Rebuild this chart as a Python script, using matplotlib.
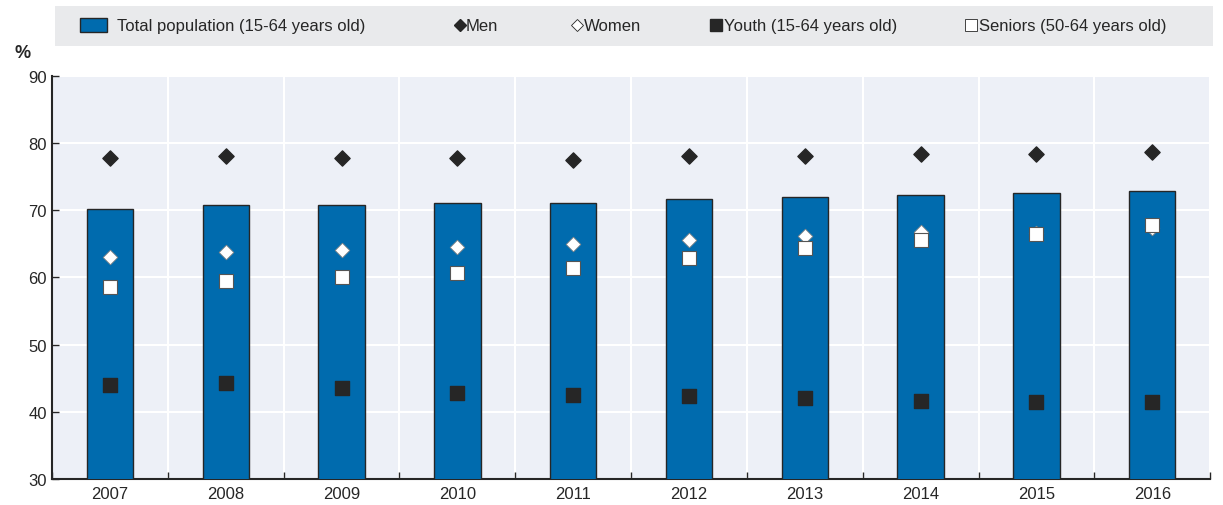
import matplotlib.pyplot as plt
import numpy as np
from matplotlib.patches import Rectangle

years = ["2007", "2008", "2009", "2010", "2011", "2012", "2013", "2014", "2015", "2016"]
total = [70.2, 70.7, 70.8, 71.0, 71.1, 71.7, 72.0, 72.3, 72.5, 72.9]
men = [77.7, 78.0, 77.7, 77.7, 77.5, 78.0, 78.1, 78.3, 78.4, 78.6]
women = [63.1, 63.7, 64.1, 64.5, 64.9, 65.6, 66.1, 66.8, 66.6, 67.3]
youth = [44.0, 44.3, 43.6, 42.8, 42.5, 42.4, 42.1, 41.6, 41.5, 41.5]
seniors = [58.6, 59.4, 60.1, 60.7, 61.4, 62.9, 64.3, 65.5, 66.5, 67.8]

plt.rcParams['font.family'] = ['Liberation Sans', 'DejaVu Sans']

BLUE = "#006BAE"
DARK = "#262626"

fig = plt.figure(figsize=(12.23, 5.06), dpi=100)
ax = fig.add_axes([0.0425, 0.0514, 0.947, 0.797])
ax.set_facecolor("#EDF0F7")

x = np.arange(len(years))
ax.bar(x, total, width=0.4, bottom=0, color=BLUE, edgecolor=DARK, linewidth=1, zorder=3)
ax.scatter(x, men, marker="D", s=60, color=DARK, edgecolor=DARK, zorder=4)
ax.scatter(x, women, marker="D", s=55, color="white", edgecolor="#888888", linewidth=0.6, zorder=4)
ax.scatter(x, youth, marker="s", s=110, color=DARK, edgecolor=DARK, zorder=4)
ax.scatter(x, seniors, marker="s", s=110, color="white", edgecolor="#555555", linewidth=0.8, zorder=5)

ax.set_ylim(30, 90)
ax.set_xlim(-0.5, len(years) - 0.5)
ax.set_yticks(range(30, 91, 10))
ax.set_xticks(x)
ax.set_xticklabels(years)
ax.set_xticks(np.arange(-0.5, len(years), 1), minor=True)

ax.grid(axis="y", color="white", linewidth=1.5, zorder=0)
ax.grid(axis="x", which="minor", color="white", linewidth=1.5, zorder=0)
ax.set_axisbelow(True)

for s in ["top", "right"]:
    ax.spines[s].set_visible(False)
for s in ["left", "bottom"]:
    ax.spines[s].set_color(DARK)
    ax.spines[s].set_linewidth(1.5)

ax.tick_params(axis="x", which="major", length=0, labelsize=12, colors=DARK, pad=5)
ax.tick_params(axis="x", which="minor", length=5, direction="in", color=DARK, width=1)
ax.tick_params(axis="y", length=5, direction="in", labelsize=12, colors=DARK, width=1)

fig.text(0.012, 0.885, "%", fontsize=13, fontweight="bold", color=DARK)

# legend drawn by hand in pixel coordinates of an overlay axes
lg = fig.add_axes([0, 0, 1, 1], zorder=-1)
lg.set_xlim(0, 1223)
lg.set_ylim(506, 0)
lg.axis("off")
lg.add_patch(Rectangle((55, 7), 1158, 40, facecolor="#E9EAEC", edgecolor="none"))
ly = 26
lg.add_patch(Rectangle((80, ly - 7), 27, 14, facecolor=BLUE, edgecolor=DARK, linewidth=1))
lg.plot([460], [ly], marker="D", color=DARK, markersize=6)
lg.plot([577], [ly], marker="D", markerfacecolor="white", markeredgecolor=DARK,
        markeredgewidth=0.6, markersize=6)
lg.plot([716], [ly], marker="s", color=DARK, markersize=9)
lg.plot([971], [ly], marker="s", markerfacecolor="white", markeredgecolor=DARK,
        markeredgewidth=0.6, markersize=9)
for tx, label in [(117, "Total population (15-64 years old)"), (466, "Men"), (584, "Women"),
                  (724, "Youth (15-64 years old)"), (979, "Seniors (50-64 years old)")]:
    lg.text(tx, ly, label, fontsize=12, color=DARK, va="center", ha="left")

fig.savefig("out.png", dpi=100)
